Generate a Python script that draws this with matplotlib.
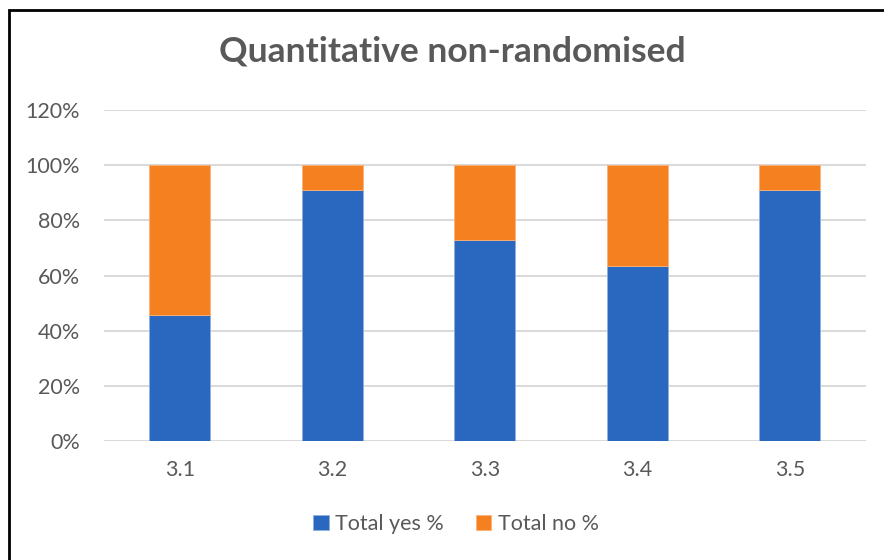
import matplotlib.pyplot as plt
from matplotlib.patches import Rectangle
from matplotlib.ticker import FuncFormatter

# Data
categories = ["3.1", "3.2", "3.3", "3.4", "3.5"]
yes_pct = [45.5, 90.9, 72.7, 63.6, 90.9]
no_pct = [54.5, 9.1, 27.3, 36.4, 9.1]

plt.rcParams['font.family'] = ['Lato', 'DejaVu Sans']
text_grey = '#595959'

fig = plt.figure(figsize=(8.84, 5.6), dpi=100)
W, H = 884.0, 560.0
ax = fig.add_axes([103.5 / W, 1 - 441 / H, (866 - 103.5) / W, (441 - 110) / H])

x = range(len(categories))
ax.bar(x, yes_pct, width=0.4, color='#2A68BF', edgecolor='#8FB0DD', linewidth=0.6,
       label='Total yes %', zorder=3)
ax.bar(x, no_pct, width=0.4, bottom=yes_pct, color='#F58020', edgecolor='#F9B27A',
       linewidth=0.6, label='Total no %', zorder=3)

ax.set_xlim(-0.5, len(categories) - 0.5)
ax.set_ylim(0, 120)
ax.set_yticks(range(0, 121, 20))
ax.yaxis.set_major_formatter(FuncFormatter(lambda v, p: '%d%%' % v))
ax.set_xticks(list(x))
ax.set_xticklabels(categories)
ax.grid(axis='y', color='#D9D9D9', linewidth=1.4, zorder=0)
for s in ax.spines.values():
    s.set_visible(False)
ax.tick_params(length=0, labelsize=15.5, colors=text_grey)
ax.tick_params(axis='y', pad=17)
ax.tick_params(axis='x', pad=14)

fig.text(452 / W, 1 - 52 / H, 'Quantitative non-randomised', ha='center', va='center',
         fontsize=25.5, fontweight='bold', color=text_grey)

leg = fig.legend(loc='center', bbox_to_anchor=(456 / W, 1 - 524 / H), ncol=2,
                 frameon=False, fontsize=15.5, handlelength=0.7, handleheight=0.7,
                 columnspacing=1.5, handletextpad=0.3)
for t in leg.get_texts():
    t.set_color(text_grey)

# chart frame (top and left edges visible in the reference)
fig.patches.append(Rectangle((9 / W, -0.1), 1.2, 1 - 10 / H + 0.1, transform=fig.transFigure,
                             fill=False, edgecolor='black', linewidth=2))

fig.savefig('out.png', dpi=100)
